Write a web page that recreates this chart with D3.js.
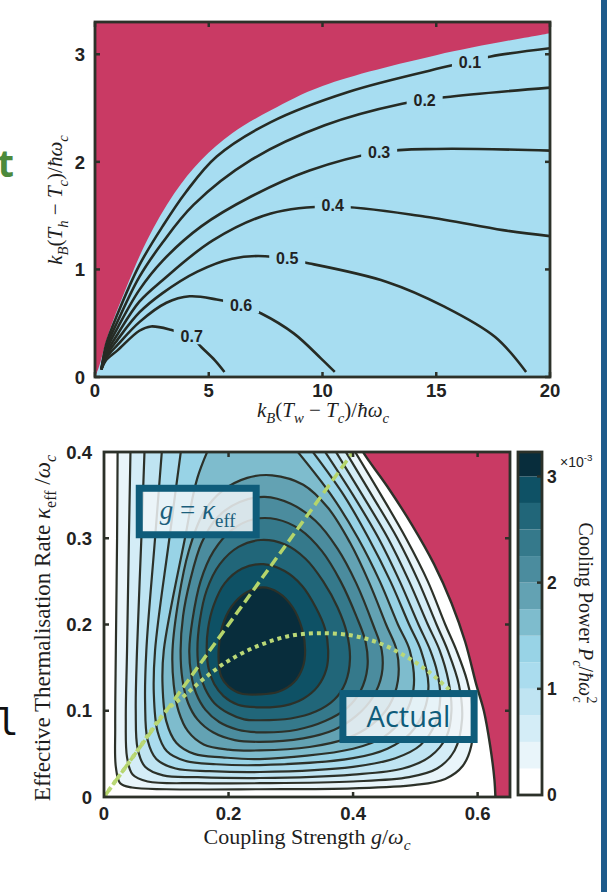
<!DOCTYPE html>
<html lang="en">
<head>
<meta charset="utf-8">
<title>Cooling efficiency and cooling power</title>
<script src="https://d3js.org/d3.v7.min.js"></script>
<style>
  body { margin: 0; background: #fff; }
  svg { display: block; }
  .tick-label { font-family: "Liberation Sans", Arial, sans-serif; font-weight: bold; font-size: 18.5px; fill: #222; }
  .clabel { font-family: "Liberation Sans", Arial, sans-serif; font-weight: bold; font-size: 16px; fill: #222; }
  .math { font-family: "Liberation Serif", "DejaVu Serif", serif; fill: #1e1e1e; }
</style>
</head>
<body>
<script>
// ---------- top panel: efficiency contours ----------
// x = kB(Tw-Tc)/ħωc , y = kB(Th-Tc)/ħωc
const effLevels = ["0.1", "0.2", "0.3", "0.4", "0.5", "0.6", "0.7"];
const effLines = [
  [[0.28,0.07],[0.5,0.31],[1.0,0.59],[1.95,1.04],[2.97,1.4],[4.0,1.72],[5.35,2.05],[7.73,2.37],[11.13,2.65],[15.55,2.89],[17.4,2.98],[20,3.056]],
  [[0.28,0.07],[0.5,0.28],[1.0,0.52],[1.95,0.93],[2.97,1.25],[4.33,1.6],[6.88,2.02],[10.1,2.34],[13.5,2.54],[15.38,2.6],[20,2.69]],
  [[0.28,0.07],[0.5,0.25],[1.0,0.46],[1.95,0.81],[2.97,1.08],[4.67,1.4],[6.88,1.68],[9.43,1.92],[12.5,2.09],[15,2.12],[20,2.104]],
  [[0.28,0.07],[0.5,0.22],[1.0,0.4],[1.95,0.7],[2.97,0.9],[5.18,1.27],[7.73,1.52],[10.45,1.585],[14.53,1.49],[17.93,1.365],[20,1.309]],
  [[0.28,0.07],[0.5,0.2],[1.0,0.35],[1.95,0.6],[2.97,0.78],[4.5,0.98],[6.03,1.1],[7.48,1.123],[9.43,1.055],[12.83,0.884],[15.38,0.652],[17.59,0.372],[18.95,0.047]],
  [[0.28,0.07],[0.5,0.18],[1.0,0.3],[1.95,0.51],[3.14,0.69],[4.16,0.75],[5.35,0.72],[6.42,0.667],[7.31,0.59],[8.75,0.403],[9.94,0.171],[10.54,0.047]],
  [[0.28,0.07],[0.5,0.16],[1.0,0.25],[1.95,0.43],[2.46,0.47],[3.31,0.44],[4.25,0.37],[4.67,0.279],[5.27,0.155],[5.69,0.047]]
];
const effLabelAt = [[16.48,2.93],[14.49,2.575],[12.49,2.094],[10.45,1.598],[8.45,1.108],[6.42,0.667],[4.25,0.379]];
const noCoolingEdge = [[0,0],[0.17,0.093],[0.59,0.403],[1.27,0.776],[2.29,1.272],[3.48,1.706],[4.67,2.017],[6.03,2.265],[7.73,2.48],[10,2.706],[15.04,2.994],[20,3.196]];
const topXTicks = [0, 5, 10, 15, 20];
const topYTicks = [0, 1, 2, 3];

// ---------- bottom panel: cooling power (x1e-3) ----------
// x = g/ωc , y = κeff/ωc
const powerLevels = [0.25, 0.5, 0.75, 1.0, 1.25, 1.5, 1.75, 2.0, 2.25, 2.5, 2.75, 3.0];
const bandColors = ["#ffffff","#e9f5fa","#d4edf7","#bfe4f2","#aadcee","#98d3e6","#7ebccd","#63a2b3","#4b8c9e","#35798b","#216679","#0e5165","#082d3c"];
const powerContours = [
  [[0.022,0.42],[0.021,0.3],[0.019,0.17],[0.018,0.08],[0.019,0.035],[0.026,0.016],[0.045,0.011],[0.1,0.009],[0.25,0.009],[0.4,0.01],[0.5,0.014],[0.548,0.021],[0.576,0.036],[0.59,0.06],[0.592,0.1],[0.583,0.135],[0.566,0.17],[0.548,0.2],[0.52,0.25],[0.485,0.3],[0.445,0.35],[0.395,0.41]],
  [[0.043,0.42],[0.04,0.3],[0.037,0.17],[0.035,0.09],[0.037,0.046],[0.046,0.026],[0.07,0.018],[0.15,0.016],[0.25,0.016],[0.4,0.018],[0.49,0.023],[0.535,0.033],[0.563,0.054],[0.575,0.09],[0.57,0.13],[0.552,0.17],[0.534,0.2],[0.505,0.25],[0.471,0.3],[0.43,0.35],[0.38,0.41]],
  [[0.066,0.42],[0.06,0.3],[0.053,0.17],[0.051,0.1],[0.054,0.056],[0.066,0.035],[0.095,0.025],[0.15,0.023],[0.25,0.022],[0.4,0.026],[0.48,0.033],[0.524,0.047],[0.55,0.07],[0.558,0.1],[0.553,0.135],[0.539,0.17],[0.52,0.2],[0.49,0.25],[0.456,0.3],[0.415,0.35],[0.364,0.41]],
  [[0.095,0.42],[0.082,0.3],[0.068,0.17],[0.066,0.11],[0.07,0.066],[0.084,0.044],[0.115,0.033],[0.17,0.03],[0.25,0.029],[0.4,0.035],[0.468,0.045],[0.508,0.06],[0.532,0.085],[0.54,0.115],[0.535,0.145],[0.524,0.17],[0.505,0.2],[0.475,0.25],[0.441,0.3],[0.4,0.35],[0.346,0.41]],
  [[0.127,0.42],[0.105,0.3],[0.082,0.17],[0.08,0.12],[0.086,0.076],[0.101,0.053],[0.13,0.042],[0.18,0.038],[0.25,0.037],[0.4,0.045],[0.455,0.056],[0.492,0.074],[0.514,0.1],[0.521,0.13],[0.509,0.17],[0.49,0.2],[0.46,0.25],[0.425,0.3],[0.385,0.35],[0.325,0.41]],
  [[0.178,0.42],[0.15,0.37],[0.13,0.3],[0.096,0.17],[0.094,0.13],[0.1,0.088],[0.116,0.063],[0.145,0.05],[0.19,0.046],[0.25,0.044],[0.4,0.056],[0.45,0.07],[0.48,0.092],[0.497,0.125],[0.491,0.17],[0.472,0.2],[0.443,0.25],[0.408,0.3],[0.365,0.35],[0.3,0.41]],
  [[0.11,0.17],[0.112,0.13],[0.12,0.099],[0.135,0.076],[0.16,0.061],[0.2,0.055],[0.25,0.054],[0.33,0.058],[0.39,0.068],[0.43,0.084],[0.458,0.106],[0.472,0.135],[0.47,0.17],[0.453,0.2],[0.425,0.25],[0.395,0.295],[0.36,0.335],[0.32,0.362],[0.27,0.373],[0.23,0.37],[0.19,0.355],[0.16,0.33],[0.136,0.285],[0.12,0.23]],
  [[0.123,0.17],[0.126,0.136],[0.135,0.109],[0.15,0.09],[0.175,0.075],[0.21,0.066],[0.25,0.064],[0.32,0.068],[0.37,0.078],[0.405,0.094],[0.432,0.116],[0.446,0.142],[0.446,0.17],[0.432,0.2],[0.405,0.248],[0.375,0.288],[0.34,0.32],[0.3,0.34],[0.258,0.348],[0.218,0.342],[0.183,0.325],[0.157,0.295],[0.138,0.25],[0.127,0.21]],
  [[0.137,0.17],[0.14,0.142],[0.148,0.12],[0.163,0.101],[0.185,0.087],[0.215,0.078],[0.25,0.075],[0.31,0.078],[0.355,0.088],[0.39,0.103],[0.412,0.123],[0.423,0.15],[0.42,0.18],[0.405,0.21],[0.38,0.25],[0.35,0.285],[0.315,0.31],[0.277,0.322],[0.24,0.322],[0.206,0.31],[0.176,0.285],[0.155,0.25],[0.142,0.205]],
  [[0.15,0.17],[0.153,0.146],[0.162,0.126],[0.177,0.109],[0.2,0.097],[0.225,0.09],[0.25,0.089],[0.3,0.091],[0.34,0.099],[0.37,0.113],[0.388,0.133],[0.395,0.16],[0.39,0.19],[0.375,0.22],[0.352,0.25],[0.324,0.276],[0.29,0.293],[0.252,0.298],[0.216,0.29],[0.186,0.27],[0.165,0.24],[0.154,0.205]],
  [[0.165,0.17],[0.168,0.149],[0.177,0.131],[0.192,0.117],[0.215,0.107],[0.25,0.104],[0.29,0.106],[0.32,0.114],[0.343,0.128],[0.357,0.148],[0.36,0.17],[0.355,0.195],[0.34,0.22],[0.318,0.245],[0.29,0.262],[0.256,0.27],[0.222,0.265],[0.194,0.248],[0.176,0.222],[0.167,0.195]],
  [[0.184,0.16],[0.188,0.14],[0.2,0.128],[0.22,0.12],[0.25,0.119],[0.28,0.122],[0.305,0.133],[0.319,0.15],[0.323,0.17],[0.318,0.195],[0.303,0.22],[0.28,0.237],[0.255,0.243],[0.228,0.237],[0.205,0.221],[0.19,0.198],[0.185,0.178]]
];
const contourClosed = [false, false, false, false, false, false, true, true, true, true, true, true];
const zeroPowerLine = [[0.41,0.41],[0.416,0.4],[0.455,0.36],[0.495,0.315],[0.53,0.27],[0.558,0.225],[0.58,0.18],[0.598,0.13],[0.61,0.1],[0.62,0.06],[0.627,0.02],[0.629,-0.01]];
const diagonal = [[0, 0], [0.4, 0.4]];
const actualCurve = [[0,0],[0.05,0.05],[0.1,0.1],[0.13,0.118],[0.16,0.137],[0.2,0.158],[0.25,0.176],[0.3,0.187],[0.35,0.19],[0.4,0.187],[0.44,0.179],[0.48,0.165],[0.52,0.146],[0.555,0.124]];
const gTicks = [0, 0.2, 0.4, 0.6];
const kTicks = [0, 0.1, 0.2, 0.3, 0.4];
const cbTicks = [0, 1, 2, 3];
const cbMax = 3.23;

const W = 607, H = 892;
const ink = "#2c3129";
const magenta = "#c93a64";
const svg = d3.select("body").append("svg").attr("width", W).attr("height", H);

// writes a label made of plain / italic / sub / sup pieces
function mathText(t, parts, size) {
  let shift = 0;
  parts.forEach(p => {
    const target = p[2] === "sub" ? size * 0.28 : p[2] === "sup" ? -size * 0.42 : 0;
    const ts = t.append("tspan")
      .attr("dy", target - shift)
      .style("font-size", (p[2] ? size * 0.7 : size) + "px")
      .style("font-style", p[1] ? "italic" : "normal")
      .text(p[0]);
    if (p[3]) ts.attr("dx", p[3]);
    shift = target;
  });
}

function frameAndTicks(g, x, y, xt, yt) {
  const [x0, x1] = x.range(), [y0, y1] = y.range();
  const tl = 5;
  g.append("g").selectAll("line").data(xt).join("line")
    .attr("x1", d => x(d)).attr("x2", d => x(d)).attr("y1", y0).attr("y2", y0 - tl);
  g.append("g").selectAll("line").data(xt).join("line")
    .attr("x1", d => x(d)).attr("x2", d => x(d)).attr("y1", y1).attr("y2", y1 + tl);
  g.append("g").selectAll("line").data(yt).join("line")
    .attr("x1", x0).attr("x2", x0 + tl).attr("y1", d => y(d)).attr("y2", d => y(d));
  g.append("g").selectAll("line").data(yt).join("line")
    .attr("x1", x1).attr("x2", x1 - tl).attr("y1", d => y(d)).attr("y2", d => y(d));
  g.selectAll("line").attr("stroke", ink).attr("stroke-width", 2.5);
  g.append("rect").attr("x", x0).attr("y", y1).attr("width", x1 - x0).attr("height", y0 - y1)
    .attr("fill", "none").attr("stroke", ink).attr("stroke-width", 2.8);
}

// ================= TOP PANEL =================
const xT = d3.scaleLinear().domain([0, 20]).range([95, 550]);
const yT = d3.scaleLinear().domain([0, 3.3]).range([377, 22]);
const topG = svg.append("g");
svg.append("clipPath").attr("id", "clipTop").append("rect")
  .attr("x", 95).attr("y", 22).attr("width", 455).attr("height", 355);
const topPlot = topG.append("g").attr("clip-path", "url(#clipTop)");
topPlot.append("rect").attr("x", 95).attr("y", 22).attr("width", 455).attr("height", 355).attr("fill", "#a7ddf1");
const lineT = d3.line().x(d => xT(d[0])).y(d => yT(d[1])).curve(d3.curveCatmullRom.alpha(0.5));
topPlot.append("path")
  .attr("d", lineT(noCoolingEdge) + `L${xT(21)},${yT(3.196)}L${xT(21)},${yT(3.5)}L${xT(-1)},${yT(3.5)}L${xT(-1)},${yT(0)}Z`)
  .attr("fill", magenta);
topPlot.append("g").selectAll("path").data(effLines).join("path")
  .attr("d", lineT).attr("fill", "none").attr("stroke", "#262b24").attr("stroke-width", 2.6);
const labT = topPlot.append("g").selectAll("g").data(effLevels).join("g")
  .attr("transform", (d, i) => `translate(${xT(effLabelAt[i][0])},${yT(effLabelAt[i][1])})`);
labT.append("rect").attr("x", -18).attr("y", -8).attr("width", 36).attr("height", 16).attr("fill", "#a7ddf1");
labT.append("text").attr("class", "clabel").attr("text-anchor", "middle").attr("dy", "0.36em").text(d => d);
frameAndTicks(topG, xT, yT, topXTicks, topYTicks);
topG.append("g").selectAll("text").data(topXTicks).join("text")
  .attr("class", "tick-label").attr("x", d => xT(d)).attr("y", 397).attr("text-anchor", "middle").text(d => d);
topG.append("g").selectAll("text").data(topYTicks).join("text")
  .attr("class", "tick-label").attr("x", 85).attr("y", d => yT(d)).attr("dy", "0.36em").attr("text-anchor", "end").text(d => d);
mathText(topG.append("text").attr("class", "math").attr("x", 323).attr("y", 417).attr("text-anchor", "middle"),
  [["k", 1], ["B", 1, "sub"], ["(", 0], ["T", 1], ["w", 1, "sub"], [" − ", 0], ["T", 1], ["c", 1, "sub"], [")/", 0], ["ħω", 1], ["c", 1, "sub"]], 21);
mathText(topG.append("text").attr("class", "math").attr("transform", "translate(62,200) rotate(-90)").attr("text-anchor", "middle"),
  [["k", 1], ["B", 1, "sub"], ["(", 0], ["T", 1], ["h", 1, "sub"], [" − ", 0], ["T", 1], ["c", 1, "sub"], [")/", 0], ["ħω", 1], ["c", 1, "sub"]], 21);

// ================= BOTTOM PANEL =================
const xB = d3.scaleLinear().domain([0, 0.652]).range([104, 510]);
const yB = d3.scaleLinear().domain([0, 0.4]).range([797, 452]);
const botG = svg.append("g");
svg.append("clipPath").attr("id", "clipBot").append("rect")
  .attr("x", 104).attr("y", 452).attr("width", 406).attr("height", 345);
const botPlot = botG.append("g").attr("clip-path", "url(#clipBot)");
botPlot.append("rect").attr("x", 104).attr("y", 452).attr("width", 406).attr("height", 345).attr("fill", bandColors[0]);
const lineOpen = d3.line().x(d => xB(d[0])).y(d => yB(d[1])).curve(d3.curveCatmullRom.alpha(0.5));
const lineClosed = d3.line().x(d => xB(d[0])).y(d => yB(d[1])).curve(d3.curveCatmullRomClosed.alpha(0.5));
const contourPath = (d, i) => contourClosed[i] ? lineClosed(d) : lineOpen(d);
botPlot.append("g").selectAll("path").data(powerContours).join("path")
  .attr("d", contourPath).attr("fill", (d, i) => bandColors[i + 1]);
botPlot.append("path")
  .attr("d", lineOpen(zeroPowerLine) + `L${xB(0.7)},${yB(-0.01)}L${xB(0.7)},${yB(0.41)}Z`)
  .attr("fill", magenta);
botPlot.append("g").selectAll("path").data(powerContours).join("path")
  .attr("d", contourPath).attr("fill", "none").attr("stroke", ink).attr("stroke-width", 2.2);
botPlot.append("path").attr("d", lineOpen(zeroPowerLine)).attr("fill", "none").attr("stroke", ink).attr("stroke-width", 2.4);
botPlot.append("path").attr("d", d3.line().x(d => xB(d[0])).y(d => yB(d[1]))(diagonal))
  .attr("fill", "none").attr("stroke", "#b5d56b").attr("stroke-width", 3.5).attr("stroke-dasharray", "10,5");
botPlot.append("path").attr("d", lineOpen(actualCurve))
  .attr("fill", "none").attr("stroke", "#bad877").attr("stroke-width", 4).attr("stroke-dasharray", "4,4");

// annotation boxes
function noteBox(g0, g1, k0, k1) {
  return botPlot.append("rect")
    .attr("x", xB(g0) + 3.5).attr("y", yB(k0) + 3.5)
    .attr("width", xB(g1) - xB(g0) - 7).attr("height", yB(k1) - yB(k0) - 7)
    .attr("fill", "rgba(243,247,249,0.84)").attr("stroke", "#0f5c7a").attr("stroke-width", 7);
}
noteBox(0.051, 0.25, 0.362, 0.3);
mathText(botPlot.append("text").attr("class", "math").attr("x", xB(0.1505)).attr("y", yB(0.322))
  .attr("text-anchor", "middle").style("fill", "#1b5f7c"),
  [["g", 1], [" = ", 0], ["κ", 1], ["eff", 0, "sub"]], 27);
noteBox(0.378, 0.6, 0.124, 0.0626);
botPlot.append("text").attr("x", xB(0.489)).attr("y", yB(0.081)).attr("text-anchor", "middle")
  .style("font-family", "'Open Sans', sans-serif").style("font-size", "29px").style("fill", "#0f5c7a")
  .text("Actual");

frameAndTicks(botG, xB, yB, gTicks.filter(d => d > 0), kTicks.filter(d => d > 0 && d < 0.4));
botG.append("g").selectAll("text").data(gTicks).join("text")
  .attr("class", "tick-label").attr("x", d => xB(d)).attr("y", 820).attr("text-anchor", "middle").text(d => d);
botG.append("g").selectAll("text").data(kTicks).join("text")
  .attr("class", "tick-label").attr("x", 92).attr("y", d => yB(d)).attr("dy", "0.36em").attr("text-anchor", "end").text(d => d);
mathText(botG.append("text").attr("class", "math").attr("x", 307).attr("y", 844).attr("text-anchor", "middle"),
  [["Coupling Strength ", 0], ["g", 1], ["/", 0], ["ω", 1], ["c", 1, "sub"]], 22);
mathText(botG.append("text").attr("class", "math").attr("transform", "translate(50,628) rotate(-90)").attr("text-anchor", "middle"),
  [["Effective Thermalisation Rate ", 0], ["κ", 1], ["eff", 0, "sub"], [" /", 0], ["ω", 1], ["c", 1, "sub"]], 23);

// ================= COLOURBAR =================
const cbY = d3.scaleLinear().domain([0, cbMax]).range([795, 452]);
const cb = svg.append("g");
const bandEdges = [0].concat(powerLevels, [cbMax]);
cb.append("g").selectAll("rect").data(bandColors).join("rect")
  .attr("x", 518).attr("width", 24)
  .attr("y", (d, i) => cbY(bandEdges[i + 1]))
  .attr("height", (d, i) => cbY(bandEdges[i]) - cbY(bandEdges[i + 1]))
  .attr("fill", d => d);
cb.append("g").selectAll("line").data(cbTicks.filter(d => d > 0)).join("line")
  .attr("x1", 542).attr("x2", 537).attr("y1", d => cbY(d)).attr("y2", d => cbY(d))
  .attr("stroke", ink).attr("stroke-width", 2.5);
cb.append("rect").attr("x", 518).attr("y", 452).attr("width", 24).attr("height", 343)
  .attr("fill", "none").attr("stroke", ink).attr("stroke-width", 2.8);
cb.append("g").selectAll("text").data(cbTicks).join("text")
  .attr("class", "tick-label").style("font-size", "17.5px")
  .attr("x", 547).attr("y", d => cbY(d)).attr("dy", "0.36em").text(d => d);
mathText(cb.append("text").attr("x", 560).attr("y", 467)
  .style("font-family", "'Liberation Sans', Arial, sans-serif").style("fill", "#222"),
  [["×10", 0], ["-3", 0, "sup"]], 14);
mathText(cb.append("text").attr("class", "math").attr("transform", "translate(579,613) rotate(90)").attr("text-anchor", "middle"),
  [["Cooling Power ", 0], ["P", 1], ["c", 1, "sub"], ["/", 0], ["ħω", 1], ["c", 1, "sub"], ["2", 0, "sup", -6]], 20);

// ================= page edges =================
svg.append("text").attr("x", 14).attr("y", 177).attr("text-anchor", "end")
  .style("font-family", "'Open Sans', sans-serif").style("font-weight", "bold").style("font-size", "38px")
  .style("fill", "#4c8a3c").text("t");
svg.append("text").attr("x", -4).attr("y", 735)
  .style("font-family", "'DejaVu Sans Mono', monospace").style("font-size", "38px")
  .style("fill", "#111").text("l");
svg.append("rect").attr("x", 601).attr("y", 0).attr("width", 6).attr("height", H).attr("fill", "#1e5b8b");
</script>
</body>
</html>
